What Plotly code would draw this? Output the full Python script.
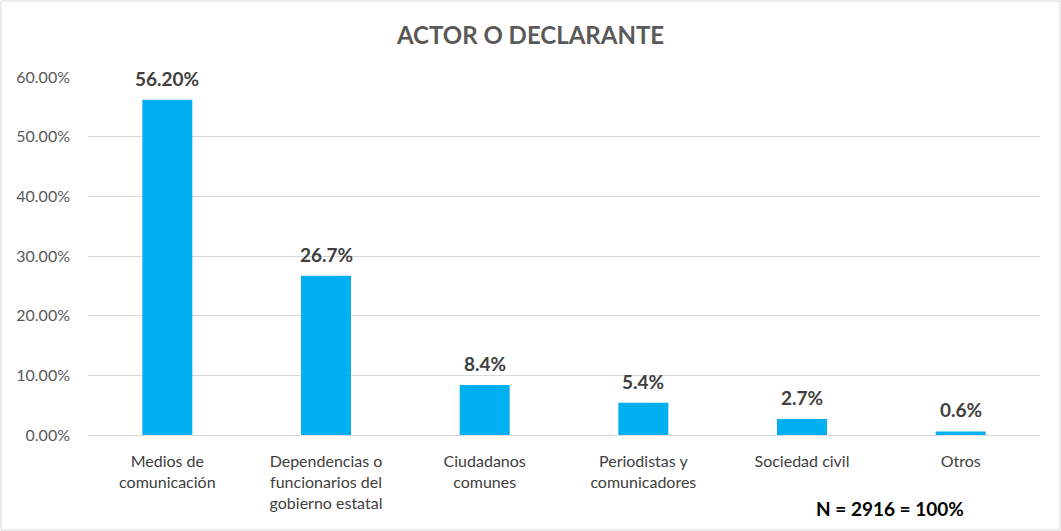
import plotly.graph_objects as go

categories = ["Medios de<br>comunicación", "Dependencias o<br>funcionarios del<br>gobierno estatal",
              "Ciudadanos<br>comunes", "Periodistas y<br>comunicadores", "Sociedad civil", "Otros"]
values = [56.2, 26.7, 8.4, 5.4, 2.7, 0.6]
labels = ["56.20%", "26.7%", "8.4%", "5.4%", "2.7%", "0.6%"]
tick_vals = [0, 10, 20, 30, 40, 50, 60]
tick_text = ["0.00%", "10.00%", "20.00%", "30.00%", "40.00%", "50.00%", "60.00%"]

W, H = 1061, 531
L, R, T, B = 88, 21, 77, 96
pw, ph = W - L - R, H - T - B

fig = go.Figure(go.Bar(
    x=categories, y=values,
    marker=dict(color="#00B0F0", line=dict(width=0)),
    hoverinfo="skip",
))

label_annotations = [
    dict(x=c, y=v, xref="x", yref="y", text=f"<b>{t}</b>", showarrow=False,
         xanchor="center", yanchor="bottom", yshift=8,
         font=dict(family="Lato, sans-serif", size=19, color="#404040"))
    for c, v, t in zip(categories, values, labels)
]

fig.update_layout(
    width=W, height=H,
    margin=dict(l=L, r=R, t=T, b=B),
    paper_bgcolor="white", plot_bgcolor="white",
    bargap=0.685,
    showlegend=False,
    title=dict(text="<b>ACTOR O DECLARANTE</b>", x=0.5, xanchor="center", y=1 - 36 / H, yanchor="middle",
               font=dict(family="Lato, sans-serif", size=24, color="#595959")),
    font=dict(family="Lato, sans-serif"),
    xaxis=dict(tickfont=dict(size=16, color="#404040"), showline=True, linecolor="#D9D9D9",
               linewidth=1, ticks="", showgrid=False, ticklabelstandoff=12),
    yaxis=dict(range=[0, 60], tickvals=tick_vals, ticktext=tick_text,
               tickfont=dict(size=16, color="#595959"), showgrid=True, gridcolor="#D9D9D9",
               gridwidth=1, zeroline=False, ticks="", ticklabelstandoff=17),
    shapes=[dict(type="rect", xref="paper", yref="paper",
                 x0=-(L - 1) / pw, x1=1 + (R - 1) / pw, y0=-(B - 1) / ph, y1=1 + (T - 1) / ph,
                 line=dict(color="#D9D9D9", width=1))],
    annotations=label_annotations + [dict(text="<b>N = 2916 = 100%</b>", xref="paper", yref="paper",
                      x=(890 - L) / pw, y=-(508 - (T + ph)) / ph, xanchor="center", yanchor="middle",
                      showarrow=False, font=dict(family="Lato, sans-serif", size=19, color="#000000"))],
)

fig.write_html("out.html", post_script="document.body.style.margin='0';",
               config={"displayModeBar": False})
